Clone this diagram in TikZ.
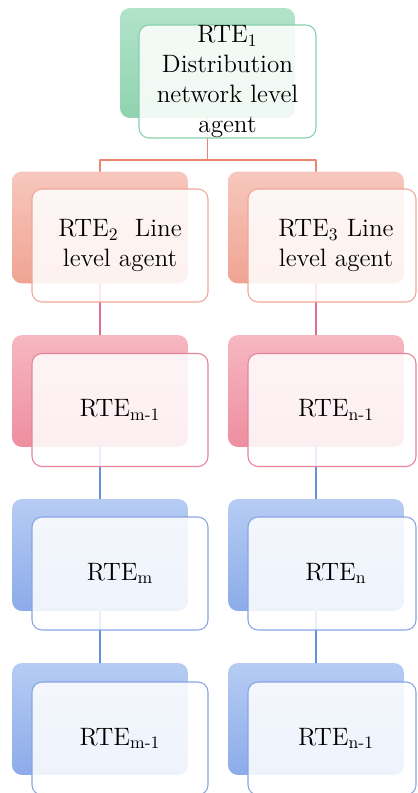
\documentclass[tikz,border=0pt]{standalone}
\definecolor{grnTop}{HTML}{B2E3CA}
\definecolor{grnBot}{HTML}{8FD3B0}
\definecolor{grnLine}{HTML}{86CFAB}
\definecolor{salTop}{HTML}{F7C7BD}
\definecolor{salBot}{HTML}{F0A493}
\definecolor{salLine}{HTML}{EFA797}
\definecolor{salLink}{HTML}{E8846F}
\definecolor{pnkTop}{HTML}{F6B8C1}
\definecolor{pnkBot}{HTML}{EE8E9F}
\definecolor{pnkLine}{HTML}{E6829A}
\definecolor{pnkLink}{HTML}{DE6F88}
\definecolor{bluTop}{HTML}{B6CCF3}
\definecolor{bluBot}{HTML}{8CABE9}
\definecolor{bluLine}{HTML}{86A5E2}
\definecolor{bluLink}{HTML}{6690DC}
\tikzset{
  backbox/.style={rounded corners=0.2cm, minimum width=3.52cm, minimum height=2.24cm, inner sep=0pt},
  frontbox/.style={draw=#1, line width=0.6pt, rounded corners=0.2cm, fill=white, fill opacity=0.86, text opacity=1,
    minimum width=3.52cm, minimum height=2.26cm, inner sep=0pt, align=center,
    font=\rmfamily\fontsize{14.3}{17}\selectfont},
  link/.style={draw=#1, line width=0.8pt},
}
\begin{document}
\begin{tikzpicture}[x=0.02cm, y=-0.02cm, line cap=round, line join=round]
  \useasboundingbox (0,0) rectangle (417,793);

  % back cards
  \node[backbox, minimum width=3.5cm, minimum height=2.2cm, top color=grnTop, bottom color=grnBot] (bk1) at (207.5,63) {};
  \node[backbox, top color=salTop, bottom color=salBot] (bk2) at (100,227.5) {};
  \node[backbox, top color=salTop, bottom color=salBot] (bk3) at (316,227.5) {};
  \node[backbox, top color=pnkTop, bottom color=pnkBot] (bk4) at (100,391) {};
  \node[backbox, top color=pnkTop, bottom color=pnkBot] (bk5) at (316,391) {};
  \node[backbox, top color=bluTop, bottom color=bluBot] (bk6) at (100,555) {};
  \node[backbox, top color=bluTop, bottom color=bluBot] (bk7) at (316,555) {};
  \node[backbox, top color=bluTop, bottom color=bluBot] (bk8) at (100,719) {};
  \node[backbox, top color=bluTop, bottom color=bluBot] (bk9) at (316,719) {};

  % links
  \coordinate (split) at (207.5,160);
  \draw[link=salLink] (bk1.south) -- (split);
  \draw[link=salLink] (bk2.north) |- (split) -| (bk3.north);
  \draw[link=pnkLink] (bk2.south) -- (bk4.north);
  \draw[link=pnkLink] (bk3.south) -- (bk5.north);
  \draw[link=bluLink] (bk4.south) -- (bk6.north);
  \draw[link=bluLink] (bk5.south) -- (bk7.north);
  \draw[link=bluLink] (bk6.south) -- (bk8.north);
  \draw[link=bluLink] (bk7.south) -- (bk9.north);

  % front cards
  \node[frontbox=grnLine, minimum width=3.54cm] (fr1) at (227.5,81.5) {RTE\textsubscript{1}\\Distribution\\network level\\agent};
  \node[frontbox=salLine] (fr2) at (120,245.5) {RTE\textsubscript{2}\ \ Line\\level agent};
  \node[frontbox=salLine, minimum width=3.36cm] (fr3) at (332,245.5) {\hspace*{0.16cm}RTE\textsubscript{3} Line\\\hspace*{0.16cm}level agent};
  \node[frontbox=pnkLine] (fr4) at (120,410) {RTE\textsubscript{m-1}};
  \node[frontbox=pnkLine, minimum width=3.36cm] (fr5) at (332,410) {\hspace*{0.16cm}RTE\textsubscript{n-1}};
  \node[frontbox=bluLine] (fr6) at (120,573.5) {RTE\textsubscript{m}};
  \node[frontbox=bluLine, minimum width=3.36cm] (fr7) at (332,573.5) {\hspace*{0.16cm}RTE\textsubscript{n}};
  \node[frontbox=bluLine] (fr8) at (120,738.5) {RTE\textsubscript{m-1}};
  \node[frontbox=bluLine, minimum width=3.36cm] (fr9) at (332,738.5) {\hspace*{0.16cm}RTE\textsubscript{n-1}};
\end{tikzpicture}
\end{document}
